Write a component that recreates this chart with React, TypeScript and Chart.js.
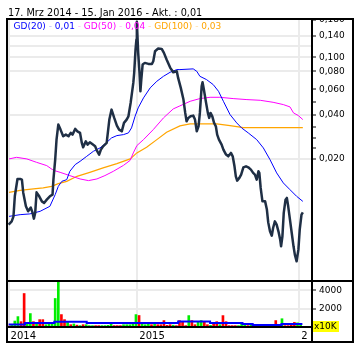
import React, { useEffect, useRef } from "react";
import { Chart, registerables } from "chart.js";

Chart.register(...registerables);

// ---- data (days counted from 17 Mar 2014) ----
const titleRange = "17. Mrz 2014 - 15. Jan 2016";

const priceDays = [
  0, 7, 11, 14, 20, 26, 30, 33, 39, 44,
  50, 53, 57, 60, 63, 69, 75, 80, 86, 93,
  99, 101, 105, 108, 112, 117, 123, 129, 135, 140,
  144, 150, 155, 161, 165, 168, 174, 178, 183, 190,
  195, 199, 204, 208, 213, 221, 227, 232, 238, 244,
  249, 255, 260, 266, 270, 275, 281, 283, 286, 288,
  289, 292, 295, 297, 299, 302, 307, 315, 323, 326,
  330, 337, 345, 350, 356, 364, 371, 379, 382, 388,
  394, 398, 401, 405, 410, 416, 420, 424, 428, 431,
  435, 437, 440, 445, 449, 452, 455, 459, 463, 467,
  470, 474, 480, 484, 490, 495, 501, 505, 509, 512,
  515, 520, 524, 529, 535, 540, 546, 551, 555, 559,
  563, 565, 568, 572, 578, 582, 585, 589, 593, 596,
  600, 604, 608, 612, 614, 617, 620, 624, 627, 630,
  634, 638, 642, 645, 649, 653, 656, 660, 663,
];
const priceValues = [
  0.00707, 0.00745, 0.00807, 0.01107, 0.01457, 0.01457, 0.01441, 0.01173, 0.00945, 0.00873,
  0.00926, 0.00873, 0.00778, 0.00855, 0.01179, 0.01107, 0.01022, 0.00997, 0.0105, 0.01107,
  0.01137, 0.01441, 0.01978, 0.02714, 0.03441, 0.0318, 0.0286, 0.02938, 0.0286, 0.03018,
  0.02938, 0.03215, 0.03095, 0.03018, 0.02576, 0.02403, 0.02642, 0.02508, 0.02601, 0.02508,
  0.02441, 0.02281, 0.02141, 0.02317, 0.02441, 0.02576, 0.03725, 0.04363, 0.03826, 0.03387,
  0.0318, 0.03095, 0.03535, 0.03725, 0.03924, 0.04851, 0.06657, 0.078, 0.1127, 0.1321,
  0.175, 0.107, 0.078, 0.05828, 0.07013, 0.08893, 0.09135, 0.08992, 0.08992, 0.0937,
  0.1098, 0.1146, 0.114, 0.107, 0.09625, 0.0848, 0.07873, 0.07998, 0.07205, 0.06151,
  0.05111, 0.04141, 0.03625, 0.03826, 0.03924, 0.03968, 0.03725, 0.03095, 0.0335, 0.04141,
  0.06308, 0.0672, 0.05987, 0.04851, 0.04141, 0.03826, 0.04141, 0.03924, 0.03535, 0.0335,
  0.02938, 0.02714, 0.02508, 0.02317, 0.02141, 0.02084, 0.02199, 0.02084, 0.01779, 0.01519,
  0.01419, 0.01481, 0.0156, 0.01751, 0.01779, 0.01751, 0.01689, 0.01603, 0.0156, 0.01441,
  0.01644, 0.01603, 0.01264, 0.01022, 0.01022, 0.00897, 0.00733, 0.00636, 0.00594, 0.00671,
  0.00745, 0.00707, 0.00636, 0.00558, 0.00502, 0.00588, 0.00851, 0.0105, 0.01079, 0.00945,
  0.00765, 0.0062, 0.00502, 0.0044, 0.00396, 0.00476, 0.00653, 0.00828, 0.00859,
];

const gd20Days = [
  1, 26, 48, 71, 93, 105, 112, 120, 131, 138,
  150, 161, 176, 191, 206, 220, 232, 244, 259, 270,
  277, 285, 292, 304, 319, 334, 349, 364, 379, 386,
  416, 424, 431, 446, 461, 473, 484, 499, 514, 525,
  540, 559, 574, 589, 604, 619, 634, 649, 663,
];
const gd20Values = [
  0.00806, 0.00828, 0.00838, 0.00873, 0.00945, 0.01137, 0.01296, 0.01403, 0.01441, 0.01644,
  0.01828, 0.01925, 0.02084, 0.02256, 0.0238, 0.02576, 0.02788, 0.02892, 0.02938, 0.03018,
  0.03266, 0.03924, 0.04482, 0.05251, 0.06151, 0.06828, 0.0739, 0.07873, 0.08216, 0.08216,
  0.08307, 0.07998, 0.0739, 0.07013, 0.0648, 0.05828, 0.04975, 0.04031, 0.03535, 0.03266,
  0.03018, 0.02714, 0.0238, 0.01978, 0.01603, 0.01368, 0.0123, 0.01107, 0.01022,
];

const gd50Days = [
  1, 18, 41, 63, 86, 101, 116, 138, 161, 180,
  199, 217, 236, 259, 274, 281, 289, 304, 326, 349,
  371, 386, 409, 431, 454, 476, 506, 537, 567, 596,
  619, 634, 642, 653, 663,
];
const gd50Values = [
  0.02, 0.02051, 0.02, 0.01895, 0.01799, 0.0167, 0.01618, 0.01536, 0.01457, 0.01419,
  0.01457, 0.01536, 0.01644, 0.01807, 0.01956, 0.02199, 0.02468, 0.02714, 0.0318, 0.03826,
  0.04412, 0.04626, 0.04975, 0.05193, 0.05301, 0.05301, 0.05193, 0.05111, 0.05055, 0.04898,
  0.04723, 0.04554, 0.04141, 0.03968, 0.03725,
];

const gd100Days = [
  1, 26, 56, 78, 97, 112, 131, 154, 183, 213,
  244, 274, 289, 311, 334, 356, 386, 409, 469, 499,
  529, 663,
];
const gd100Values = [
  0.01179, 0.01217, 0.01244, 0.01264, 0.01296, 0.01353, 0.01403, 0.01519, 0.01618, 0.01735,
  0.01857, 0.02, 0.02199, 0.02403, 0.02714, 0.03047, 0.03371, 0.0348, 0.0348, 0.03387,
  0.03282, 0.03282,
];

// weekly volume (x10K), one bar per week
const volumeValues = [
  100, 290, 650, 1130, 580, 3640, 330, 1460, 580, 330,
  800, 800, 250, 330, 400, 3100, 4950, 1350, 800, 500,
  250, 330, 200, 150, 250, 250, 150, 150, 150, 150,
  150, 150, 180, 400, 150, 150, 150, 250, 250, 250,
  330, 1350, 1250, 300, 250, 330, 250, 300, 250, 250,
  700, 180, 250, 200, 150, 700, 620, 150, 1240, 700,
  250, 550, 700, 550, 250, 180, 470, 580, 250, 1240,
  580, 150, 150, 150, 150, 330, 250, 150, 330, 180,
  150, 150, 150, 150, 150, 150, 700, 250, 900, 150,
  150, 250, 500, 450, 330,
];
const volumeDirection = [
  "d", "u", "u", "u", "d", "d", "u", "u", "d", "u",
  "d", "d", "u", "u", "u", "u", "u", "d", "d", "u",
  "d", "u", "d", "u", "d", "u", "u", "u", "d", "d",
  "u", "u", "u", "u", "d", "d", "d", "u", "u", "u",
  "u", "u", "d", "u", "u", "u", "d", "u", "d", "d",
  "d", "d", "d", "u", "d", "d", "d", "d", "u", "d",
  "d", "u", "u", "d", "d", "u", "d", "d", "u", "d",
  "d", "d", "d", "d", "u", "u", "u", "d", "u", "u",
  "u", "d", "d", "d", "d", "d", "d", "u", "u", "d",
  "d", "d", "d", "u", "u",
];
const volumeAvgDays = [0, 37, 103, 176, 382, 454, 527, 550, 615, 662];
const volumeAvgValues = [280, 440, 580, 440, 610, 440, 330, 220, 330, 330];

const xTickDays = [0, 290, 655];
const xTickLabels = ["2014", "2015", "2016"];
const priceLabelTicks = [0.02, 0.04, 0.06, 0.08, 0.1, 0.14, 0.18];
const priceMinorTicks = [0.0237, 0.028, 0.0333, 0.049];
const priceGridValues = [0.02, 0.04, 0.08, 0.1, 0.12, 0.14];
const volumeTicks = [2000, 4000];

const FONT = '"DejaVu Sans", Verdana, sans-serif';
const GRID = "#ebebeb";

const fmt2 = (v: number) => v.toFixed(2).replace(".", ",");
const fmt3 = (v: number) => v.toFixed(3).replace(".", ",");

export default function App() {
  const ref = useRef<HTMLCanvasElement>(null);

  useEffect(() => {
    const canvas = ref.current;
    if (!canvas) return;
    const toPts = (xs: number[], ys: number[]) => xs.map((x, i) => ({ x, y: ys[i] }));
    const last = (a: number[]) => a[a.length - 1];
    const title = `${titleRange} - Akt. : ${fmt2(last(priceValues))}`;
    const legendItems = [
      { name: "GD(20)", value: fmt2(last(gd20Values)), color: "#0000ff", pale: "#b4b4ff" },
      { name: "GD(50)", value: fmt2(last(gd50Values)), color: "#ff00ff", pale: "#ffb4ff" },
      { name: "GD(100)", value: fmt2(last(gd100Values)), color: "#ffa500", pale: "#ffe0a8" },
    ];

    const overlay = {
      id: "overlay",
      afterDraw(chart: any) {
        const ctx = chart.ctx as CanvasRenderingContext2D;
        ctx.save();
        ctx.fillStyle = "#ffffff";
        ctx.fillRect(0, 0, 360, 18);
        ctx.fillRect(307, 328, 45, 13);
        ctx.fillRect(313, 320, 39, 21);
        // title
        ctx.fillStyle = "#000000";
        ctx.font = `9.7px ${FONT}`;
        ctx.textAlign = "left";
        ctx.textBaseline = "alphabetic";
        ctx.fillText(title, 8, 16);
        // legend
        ctx.font = `9px ${FONT}`;
        ctx.textBaseline = "middle";
        let x = 13.5;
        const y = 27;
        legendItems.forEach((it, i) => {
          if (i > 0) {
            ctx.fillStyle = it.pale;
            ctx.fillText(" - ", x, y);
            x += ctx.measureText(" - ").width;
          }
          ctx.fillStyle = it.color;
          ctx.fillText(it.name, x, y);
          x += ctx.measureText(it.name).width;
          ctx.fillStyle = it.pale;
          ctx.fillText(" - ", x, y);
          x += ctx.measureText(" - ").width;
          ctx.fillStyle = it.color;
          ctx.fillText(it.value, x, y);
          x += ctx.measureText(it.value).width;
        });
        // frame
        ctx.strokeStyle = "#000000";
        ctx.lineWidth = 2;
        ctx.strokeRect(7, 19, 346, 323);
        ctx.beginPath();
        ctx.moveTo(312, 19);
        ctx.lineTo(312, 342);
        ctx.moveTo(7, 281);
        ctx.lineTo(353, 281);
        ctx.moveTo(7, 327);
        ctx.lineTo(312, 327);
        ctx.stroke();
        // unit box
        ctx.fillStyle = "#ffff00";
        ctx.fillRect(313, 321, 26, 11);
        ctx.fillStyle = "#000000";
        ctx.font = `9px ${FONT}`;
        ctx.textBaseline = "middle";
        ctx.fillText("x10K", 314, 326.5);
        ctx.restore();
      },
    };

    const chart = new Chart(canvas, {
      type: "line",
      data: {
        datasets: [
          {
            type: "line",
            data: toPts(priceDays, priceValues),
            xAxisID: "x",
            yAxisID: "y",
            borderColor: "#1f2f45",
            borderWidth: 2.5,
            borderJoinStyle: "round",
            pointRadius: 0,
            tension: 0,
          },
          {
            type: "line",
            data: toPts(gd20Days, gd20Values),
            xAxisID: "x",
            yAxisID: "y",
            borderColor: "#0000ff",
            borderWidth: 1,
            pointRadius: 0,
          },
          {
            type: "line",
            data: toPts(gd50Days, gd50Values),
            xAxisID: "x",
            yAxisID: "y",
            borderColor: "#ff00ff",
            borderWidth: 1,
            pointRadius: 0,
          },
          {
            type: "line",
            data: toPts(gd100Days, gd100Values),
            xAxisID: "x",
            yAxisID: "y",
            borderColor: "#ffa500",
            borderWidth: 1.2,
            pointRadius: 0,
          },
          {
            type: "line",
            data: toPts(volumeAvgDays, volumeAvgValues),
            xAxisID: "x",
            yAxisID: "yv",
            borderColor: "#0000ff",
            borderWidth: 2,
            pointRadius: 0,
            stepped: "before",
          },
          {
            type: "bar",
            data: volumeValues.map((v, i) => ({ x: i * 7, y: v })),
            xAxisID: "x",
            yAxisID: "yv",
            backgroundColor: volumeDirection.map((d) => (d === "u" ? "#00ee00" : "#ff0000")),
            borderWidth: 0,
            barThickness: 2,
          },
        ] as any,
      },
      options: {
        responsive: false,
        devicePixelRatio: 1,
        animation: false,
        events: [],
        layout: { padding: { left: 8, top: 20, right: 7, bottom: 19 } },
        plugins: { legend: { display: false }, tooltip: { enabled: false } },
        scales: {
          x: {
            type: "linear",
            position: "bottom",
            min: -1.35,
            max: 681.4,
            offset: false,
            afterBuildTicks: (s: any) => {
              s.ticks = xTickDays.map((v) => ({ value: v }));
            },
            afterFit: (s: any) => {
              s.height = 14;
              s.paddingLeft = 0;
              s.paddingRight = 0;
            },
            ticks: {
              autoSkip: false,
              maxRotation: 0,
              align: "start",
              labelOffset: 2,
              padding: 3,
              color: "#000000",
              font: { family: FONT, size: 10 },
              callback: (v: any) => {
                const i = xTickDays.indexOf(v);
                return i >= 0 ? xTickLabels[i] : "";
              },
            },
            grid: { color: GRID, lineWidth: 2, drawTicks: false, offset: false },
            border: { display: false },
          },
          y: {
            type: "logarithmic",
            position: "right",
            stack: "panes",
            stackWeight: 261,
            min: 0.0029,
            max: 0.18,
            afterBuildTicks: (s: any) => {
              const all = [...priceLabelTicks, ...priceMinorTicks, 0.12].sort((a, b) => a - b);
              s.ticks = all.map((v) => ({ value: v }));
            },
            afterFit: (s: any) => {
              s.width = 42;
              s.paddingTop = 0;
              s.paddingBottom = 0;
            },
            ticks: {
              autoSkip: false,
              padding: 3,
              color: "#000000",
              font: { family: FONT, size: 9 },
              callback: (v: any) => (priceLabelTicks.includes(v) ? fmt3(v) : ""),
            },
            grid: {
              lineWidth: 2,
              tickLength: 5,
              color: (c: any) => (c.tick && priceGridValues.includes(c.tick.value) ? GRID : "rgba(0,0,0,0)"),
              tickColor: (c: any) =>
                c.tick && (priceLabelTicks.includes(c.tick.value) || priceMinorTicks.includes(c.tick.value))
                  ? "#000000"
                  : "rgba(0,0,0,0)",
              tickWidth: 1,
            },
            border: { display: false },
          },
          yv: {
            type: "linear",
            position: "right",
            stack: "panes",
            stackWeight: 46,
            min: 0,
            max: 5000,
            afterBuildTicks: (s: any) => {
              s.ticks = volumeTicks.map((v) => ({ value: v }));
            },
            afterFit: (s: any) => {
              s.width = 42;
              s.paddingTop = 0;
              s.paddingBottom = 0;
            },
            ticks: {
              autoSkip: false,
              padding: 3,
              color: "#000000",
              font: { family: FONT, size: 9 },
              callback: (v: any) => String(v),
            },
            grid: { color: GRID, lineWidth: 2, tickLength: 5, tickColor: "#000000", tickWidth: 1 },
            border: { display: false },
          },
        } as any,
      },
      plugins: [overlay],
    });
    return () => chart.destroy();
  }, []);

  return (
    <div style={{ position: "fixed", left: 0, top: 0, width: 360, height: 360, background: "#ffffff" }}>
      <canvas ref={ref} width={360} height={360} style={{ display: "block", width: 360, height: 360 }} />
    </div>
  );
}
